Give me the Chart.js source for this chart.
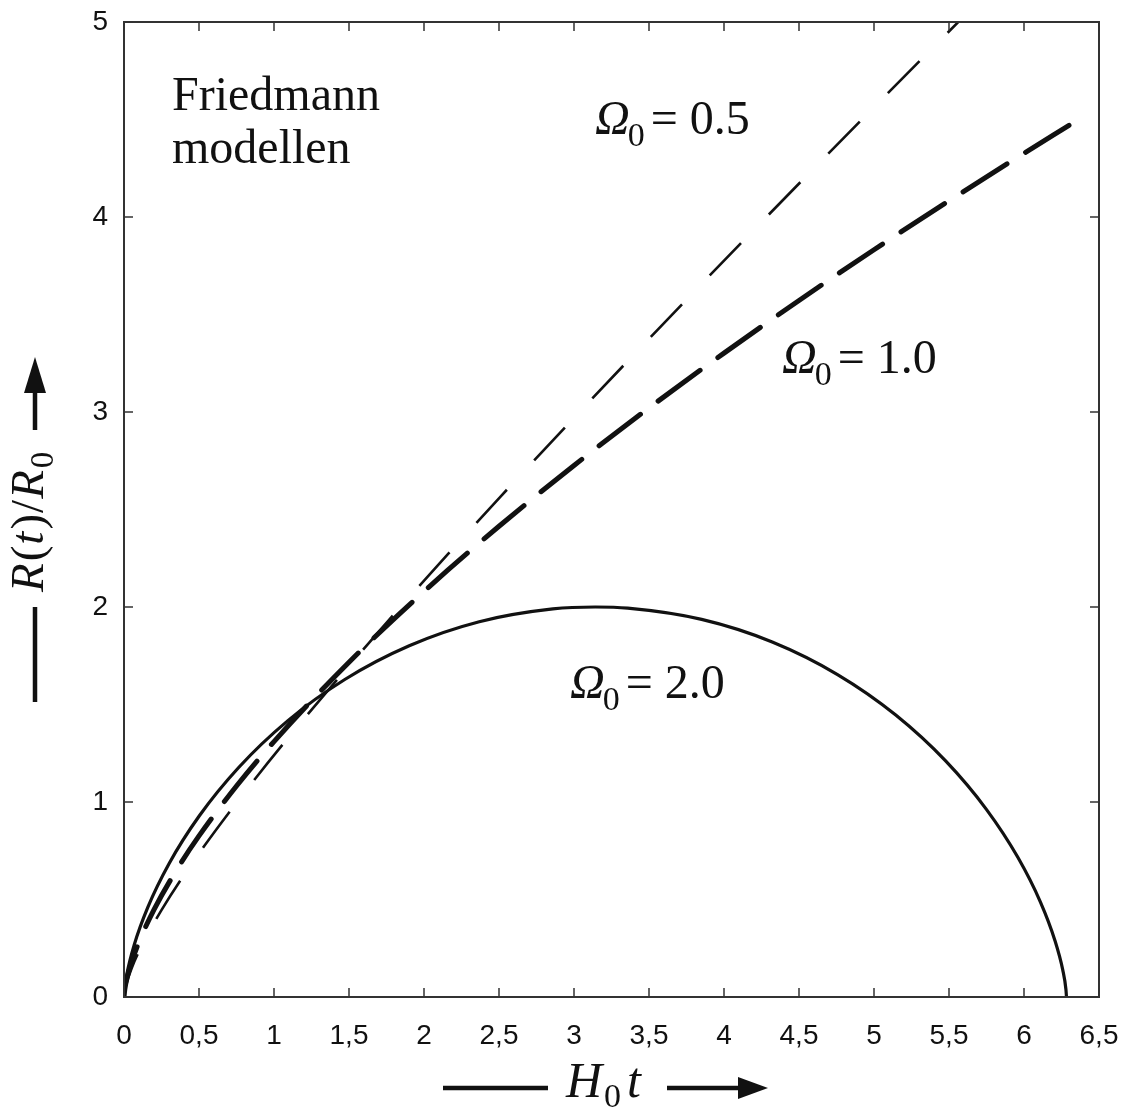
<!DOCTYPE html>
<html>
<head>
<meta charset="utf-8">
<title>Friedmann modellen</title>
<script src="https://cdn.jsdelivr.net/npm/chart.js@4.4.1/dist/chart.umd.min.js"></script>
<style>
  html, body { margin: 0; padding: 0; background: #fff; }
  #wrap { width: 1122px; height: 1108px; position: relative; }
</style>
</head>
<body>
<div id="wrap"><canvas id="friedmannChart"></canvas></div>
<script>
// Friedmann models: scale factor R(t)/R0 against H0 t
// Values
const tOpen = [0, 0.0018, 0.0149, 0.0511, 0.1239, 0.2488, 0.445, 0.7357, 1.1504, 1.7262, 2.0888, 2.5103, 2.999, 3.5634, 4.2136, 4.9623, 5.64];
const rOpen = [0, 0.0157, 0.0638, 0.1473, 0.2715, 0.4442, 0.6762, 0.9821, 1.3811, 1.8983, 2.211, 2.5662, 2.969, 3.4267, 3.9453, 4.5338, 5.0607];

const tFlat = [0, 0.005, 0.02, 0.05, 0.1, 0.2, 0.35, 0.5, 0.75, 1, 1.5, 2, 2.5, 3, 3.5, 4, 4.5, 5, 5.5, 6, 6.3];
const rFlat = [0, 0.038, 0.097, 0.178, 0.282, 0.448, 0.651, 0.826, 1.082, 1.310, 1.717, 2.080, 2.414, 2.726, 3.021, 3.302, 3.572, 3.832, 4.083, 4.327, 4.470];

const tClosed = [0, 0.0026, 0.0206, 0.0684, 0.1585, 0.301, 0.5025, 0.766, 1.0907, 1.4719, 1.9015, 2.3683, 2.8589, 3.1416, 3.3582, 3.8508, 4.3216, 4.7568, 5.145, 5.4775, 5.7493, 5.9589, 6.1089, 6.2055, 6.2583, 6.2794, 6.2832];
const rClosed = [0, 0.0311, 0.1224, 0.2683, 0.4597, 0.6847, 0.9293, 1.1782, 1.4161, 1.6282, 1.8011, 1.9243, 1.99, 2, 1.9941, 1.9365, 1.8206, 1.6536, 1.4461, 1.2108, 0.9624, 0.7163, 0.4879, 0.2913, 0.1388, 0.0398, 0];

const omegaValues = ['0.5', '1.0', '2.0'];
const xTicks = [0, 0.5, 1, 1.5, 2, 2.5, 3, 3.5, 4, 4.5, 5, 5.5, 6, 6.5];
const yTicks = [0, 1, 2, 3, 4, 5];

const SERIF = '"Liberation Serif", "Times New Roman", serif';
const SANS = '"Liberation Sans", Arial, sans-serif';
const INK = '#111';

function toPoints(xs, ys) {
    return xs.map((x, i) => ({ x: x, y: ys[i] }));
}

// draw a run of text pieces one after another on the current baseline
function drawRun(ctx, x, y, parts) {
    let cx = x;
    parts.forEach(p => {
        ctx.font = p.font;
        ctx.fillText(p.text, cx, y + (p.dy || 0));
        cx += ctx.measureText(p.text).width + (p.gap || 0);
    });
}

function omegaParts(value) {
    return [
        { text: 'Ω', font: 'italic 48px ' + SERIF, gap: -2 },
        { text: '0', font: '34px ' + SERIF, dy: 12, gap: 6 },
        { text: '= ' + value, font: '48px ' + SERIF }
    ];
}

// box with inward ticks on all four sides
const frameTicks = {
    id: 'frameTicks',
    afterDatasetsDraw(chart) {
        const { ctx, chartArea: a, scales: { x, y } } = chart;
        ctx.save();
        ctx.strokeStyle = '#333';
        ctx.lineWidth = 2;
        ctx.strokeRect(a.left, a.top, a.right - a.left, a.bottom - a.top);
        ctx.lineWidth = 1.5;
        ctx.beginPath();
        xTicks.forEach(v => {
            const px = x.getPixelForValue(v);
            ctx.moveTo(px, a.bottom); ctx.lineTo(px, a.bottom - 9);
            ctx.moveTo(px, a.top); ctx.lineTo(px, a.top + 9);
        });
        yTicks.forEach(v => {
            const py = y.getPixelForValue(v);
            ctx.moveTo(a.left, py); ctx.lineTo(a.left + 9, py);
            ctx.moveTo(a.right, py); ctx.lineTo(a.right - 9, py);
        });
        ctx.stroke();
        ctx.restore();
    }
};

function arrowHead(ctx, tipX, tipY, dirX, dirY, len, half) {
    ctx.beginPath();
    ctx.moveTo(tipX, tipY);
    ctx.lineTo(tipX - dirX * len - dirY * half, tipY - dirY * len + dirX * half);
    ctx.lineTo(tipX - dirX * len + dirY * half, tipY - dirY * len - dirX * half);
    ctx.closePath();
    ctx.fill();
}

// text annotations and axis titles with arrows
const annotations = {
    id: 'annotations',
    afterDraw(chart) {
        const { ctx, scales: { x, y } } = chart;
        ctx.save();
        ctx.fillStyle = INK;
        ctx.strokeStyle = INK;
        ctx.textBaseline = 'alphabetic';
        ctx.textAlign = 'left';

        ctx.font = '48px ' + SERIF;
        ctx.fillText('Friedmann', x.getPixelForValue(0.32), y.getPixelForValue(4.549));
        ctx.fillText('modellen', x.getPixelForValue(0.32), y.getPixelForValue(4.277));

        drawRun(ctx, x.getPixelForValue(3.14), y.getPixelForValue(4.426), omegaParts(omegaValues[0]));
        drawRun(ctx, x.getPixelForValue(4.387), y.getPixelForValue(3.2), omegaParts(omegaValues[1]));
        drawRun(ctx, x.getPixelForValue(2.973), y.getPixelForValue(1.533), omegaParts(omegaValues[2]));

        // x title:  ——  H0t  ——>
        ctx.lineWidth = 4.5;
        ctx.beginPath();
        ctx.moveTo(443, 1088); ctx.lineTo(548, 1088);
        ctx.moveTo(667, 1088); ctx.lineTo(742, 1088);
        ctx.stroke();
        arrowHead(ctx, 768, 1088, 1, 0, 30, 11);
        drawRun(ctx, 566, 1097, [
            { text: 'H', font: 'italic 50px ' + SERIF, gap: 2 },
            { text: '0', font: '34px ' + SERIF, dy: 10, gap: 6 },
            { text: 't', font: 'italic 50px ' + SERIF }
        ]);

        // y title:  ——  R(t)/R0  ——>  (rotated)
        ctx.beginPath();
        ctx.moveTo(35, 702); ctx.lineTo(35, 607);
        ctx.moveTo(35, 430); ctx.lineTo(35, 390);
        ctx.stroke();
        arrowHead(ctx, 35, 357, 0, -1, 36, 11);
        ctx.save();
        ctx.translate(43, 592);
        ctx.rotate(-Math.PI / 2);
        drawRun(ctx, 0, 0, [
            { text: 'R', font: 'italic 47px ' + SERIF, gap: 2 },
            { text: '(', font: '47px ' + SERIF, gap: 1 },
            { text: 't', font: 'italic 47px ' + SERIF, gap: 2 },
            { text: ')', font: '47px ' + SERIF, gap: 1 },
            { text: '/', font: '47px ' + SERIF, gap: 1 },
            { text: 'R', font: 'italic 47px ' + SERIF, gap: 2 },
            { text: '0', font: '33px ' + SERIF, dy: 10 }
        ]);
        ctx.restore();
        ctx.restore();
    }
};

function createFriedmannChart() {
    const canvas = document.getElementById('friedmannChart');
    if (!canvas) return;

    new Chart(canvas, {
        type: 'scatter',
        data: {
            datasets: [{
                label: 'Ω0 = ' + omegaValues[0],
                data: toPoints(tOpen, rOpen),
                showLine: true,
                borderColor: INK,
                borderWidth: 2.6,
                borderDash: [45, 40],
                borderCapStyle: 'butt',
                cubicInterpolationMode: 'monotone',
                pointRadius: 0
            }, {
                label: 'Ω0 = ' + omegaValues[1],
                data: toPoints(tFlat, rFlat),
                showLine: true,
                borderColor: INK,
                borderWidth: 5,
                borderDash: [52, 22],
                borderCapStyle: 'round',
                cubicInterpolationMode: 'monotone',
                pointRadius: 0
            }, {
                label: 'Ω0 = ' + omegaValues[2],
                data: toPoints(tClosed, rClosed),
                showLine: true,
                borderColor: INK,
                borderWidth: 3.2,
                cubicInterpolationMode: 'monotone',
                pointRadius: 0
            }]
        },
        options: {
            responsive: true,
            maintainAspectRatio: false,
            animation: false,
            layout: { padding: { top: 22, right: 23, left: 0, bottom: 0 } },
            plugins: {
                legend: { display: false },
                tooltip: { enabled: false }
            },
            scales: {
                x: {
                    type: 'linear',
                    min: 0,
                    max: 6.5,
                    afterBuildTicks: scale => { scale.ticks = xTicks.map(v => ({ value: v })); },
                    afterFit: scale => {
                        scale.height = 111;
                        scale.paddingLeft = 0;
                        scale.paddingRight = 0;
                    },
                    grid: { display: false, drawTicks: false },
                    border: { display: false },
                    ticks: {
                        color: '#111',
                        padding: 22,
                        maxRotation: 0,
                        autoSkip: false,
                        font: { family: SANS, size: 28 },
                        callback: v => String(v).replace('.', ',')
                    }
                },
                y: {
                    type: 'linear',
                    min: 0,
                    max: 5,
                    afterBuildTicks: scale => { scale.ticks = yTicks.map(v => ({ value: v })); },
                    afterFit: scale => {
                        scale.width = 124;
                        scale.paddingTop = 0;
                        scale.paddingBottom = 0;
                    },
                    grid: { display: false, drawTicks: false },
                    border: { display: false },
                    ticks: {
                        color: '#111',
                        padding: 16,
                        autoSkip: false,
                        font: { family: SANS, size: 28 },
                        callback: v => String(v)
                    }
                }
            }
        },
        plugins: [frameTicks, annotations]
    });
}

document.addEventListener('DOMContentLoaded', createFriedmannChart);
</script>
</body>
</html>
